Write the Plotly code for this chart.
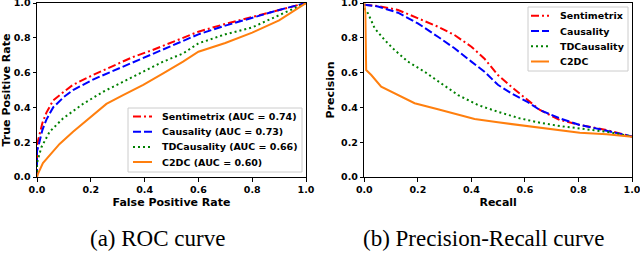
import plotly.graph_objects as go

# ---------------- ROC data ----------------
roc_sent_fpr = [0, 0, 0.004, 0.02, 0.035, 0.06, 0.1, 0.134, 0.208, 0.283, 0.357, 0.43, 0.506, 0.6, 0.7, 0.8, 0.9, 1.0]
roc_sent_tpr = [0, 0.18, 0.21, 0.31, 0.37, 0.44, 0.49, 0.53, 0.586, 0.638, 0.69, 0.73, 0.778, 0.835, 0.88, 0.92, 0.96, 1.0]

roc_caus_fpr = [0, 0, 0.004, 0.02, 0.035, 0.06, 0.1, 0.134, 0.208, 0.283, 0.357, 0.43, 0.506, 0.6, 0.7, 0.8, 0.9, 1.0]
roc_caus_tpr = [0, 0.15, 0.17, 0.27, 0.33, 0.40, 0.46, 0.50, 0.56, 0.61, 0.66, 0.71, 0.76, 0.82, 0.87, 0.915, 0.96, 1.0]

roc_td_fpr = [0, 0, 0.016, 0.047, 0.097, 0.171, 0.246, 0.32, 0.395, 0.469, 0.543, 0.6, 0.7, 0.8, 0.9, 1.0]
roc_td_tpr = [0, 0.08, 0.17, 0.26, 0.337, 0.42, 0.49, 0.548, 0.605, 0.663, 0.71, 0.768, 0.82, 0.86, 0.93, 1.0]

roc_c2_fpr = [0, 0.004, 0.022, 0.047, 0.084, 0.134, 0.208, 0.258, 0.32, 0.395, 0.469, 0.543, 0.6, 0.7, 0.8, 0.9, 1.0]
roc_c2_tpr = [0, 0.02, 0.08, 0.126, 0.19, 0.26, 0.356, 0.42, 0.47, 0.53, 0.596, 0.663, 0.72, 0.77, 0.83, 0.9, 1.0]

# ---------------- Precision-Recall data ----------------
pr_sent_rec = [0, 0.051, 0.126, 0.2, 0.275, 0.337, 0.4, 0.449, 0.499, 0.549, 0.598, 0.656, 0.73, 0.805, 0.905, 1.0]
pr_sent_prec = [0.99, 0.983, 0.96, 0.912, 0.864, 0.816, 0.749, 0.68, 0.586, 0.519, 0.46, 0.385, 0.328, 0.299, 0.27, 0.233]

pr_caus_rec = [0, 0.051, 0.126, 0.2, 0.275, 0.337, 0.4, 0.449, 0.499, 0.549, 0.611, 0.656, 0.73, 0.805, 0.905, 1.0]
pr_caus_prec = [0.99, 0.98, 0.944, 0.883, 0.806, 0.74, 0.663, 0.605, 0.53, 0.481, 0.43, 0.385, 0.337, 0.299, 0.266, 0.233]

pr_td_rec = [0, 0.014, 0.039, 0.076, 0.113, 0.163, 0.225, 0.287, 0.35, 0.424, 0.499, 0.581, 0.656, 0.73, 0.805, 0.905, 1.0]
pr_td_prec = [0.97, 0.94, 0.854, 0.787, 0.73, 0.663, 0.605, 0.539, 0.471, 0.414, 0.375, 0.337, 0.312, 0.293, 0.28, 0.26, 0.233]

pr_c2_rec = [0, 0.004, 0.007, 0.026, 0.063, 0.113, 0.188, 0.275, 0.35, 0.412, 0.499, 0.598, 0.656, 0.73, 0.805, 0.905, 1.0]
pr_c2_prec = [1.0, 0.94, 0.615, 0.586, 0.519, 0.481, 0.424, 0.389, 0.356, 0.333, 0.314, 0.295, 0.28, 0.266, 0.255, 0.245, 0.232]

roc_names = ["Sentimetrix (AUC = 0.74)", "Causality (AUC = 0.73)", "TDCausality (AUC = 0.66)", "C2DC (AUC = 0.60)"]
pr_names = ["Sentimetrix", "Causality", "TDCausality", "C2DC"]
tick_vals = [0.0, 0.2, 0.4, 0.6, 0.8, 1.0]
tick_text = ["0.0", "0.2", "0.4", "0.6", "0.8", "1.0"]
captions = ["(a) ROC curve", "(b) Precision-Recall curve"]

colors = ["#ff0000", "#0000ff", "#008000", "#ff7f0e"]
dashes = ["8px,3px,2px,3px", "8px,3px", "2px,3px", "solid"]
LW = 2

# ---------------- page geometry (pixels) ----------------
W, H = 640, 253
ML, MR, MT, MB = 37, 8, 3, 76
PW, PH = W - ML - MR, H - MT - MB


def px(xp):
    return (xp - ML) / PW


def py(yp):
    return (H - MB - yp) / PH


fig = go.Figure()

roc_series = [(roc_sent_fpr, roc_sent_tpr), (roc_caus_fpr, roc_caus_tpr),
              (roc_td_fpr, roc_td_tpr), (roc_c2_fpr, roc_c2_tpr)]
pr_series = [(pr_sent_rec, pr_sent_prec), (pr_caus_rec, pr_caus_prec),
             (pr_td_rec, pr_td_prec), (pr_c2_rec, pr_c2_prec)]

for i, (x, y) in enumerate(roc_series):
    fig.add_trace(go.Scatter(x=x, y=y, mode="lines", name=roc_names[i], showlegend=False,
                             line=dict(color=colors[i], width=LW, dash=dashes[i]),
                             xaxis="x", yaxis="y"))
for i, (x, y) in enumerate(pr_series):
    fig.add_trace(go.Scatter(x=x, y=y, mode="lines", name=pr_names[i], showlegend=False,
                             line=dict(color=colors[i], width=LW, dash=dashes[i]),
                             xaxis="x2", yaxis="y2"))

tickfont = dict(family="DejaVu Sans", size=9.5, color="black", weight="bold")
titlefont = dict(family="DejaVu Sans", size=11, color="black", weight="bold")


def axis(domain, title, anchor):
    return dict(domain=domain, range=[0, 1], anchor=anchor, automargin=False,
                tickvals=tick_vals, ticktext=tick_text, tickfont=tickfont,
                ticklabeloverflow="allow",
                title=dict(text=title, font=titlefont, standoff=4),
                showgrid=False, zeroline=False, showline=True, mirror=True,
                linecolor="black", linewidth=1, ticks="outside", ticklen=3.5,
                tickwidth=0.8, tickcolor="black")


fig.update_layout(
    width=W, height=H,
    margin=dict(l=ML, r=MR, t=MT, b=MB),
    paper_bgcolor="white", plot_bgcolor="white",
    xaxis=axis([0, px(306)], "False Positive Rate", "y"),
    yaxis=axis([0, 1], "True Positive Rate", "x"),
    xaxis2=axis([px(364.3), 1], "Recall", "y2"),
    yaxis2=axis([0, 1], "Precision", "x2"),
    showlegend=False,
)

# ---------------- legends (matplotlib-style boxes) ----------------
legfont = dict(family="DejaVu Sans", size=9.5, color="black", weight="bold")


def add_legend(box, sample_x, text_x, rows, names):
    x0, y0, x1, y1 = box
    fig.add_shape(type="rect", xref="paper", yref="paper", layer="above",
                  x0=px(x0), x1=px(x1), y0=py(y1), y1=py(y0),
                  line=dict(color="#cccccc", width=1), fillcolor="white")
    for i, (name, ry) in enumerate(zip(names, rows)):
        fig.add_shape(type="line", xref="paper", yref="paper", layer="above",
                      x0=px(sample_x[0]), x1=px(sample_x[1]), y0=py(ry), y1=py(ry),
                      line=dict(color=colors[i], width=LW, dash=dashes[i]))
        fig.add_annotation(x=px(text_x), y=py(ry), xref="paper", yref="paper",
                           text=name, showarrow=False, xanchor="left", yanchor="middle",
                           font=legfont)


add_legend((128, 108, 302, 172), (133, 152), 159.5, [116.5, 131.7, 146.9, 162.0], roc_names)
add_legend((528, 7, 628, 71), (531, 549), 558, [15.7, 31.0, 46.3, 61.5], pr_names)

for cx, txt in zip([157, 483], captions):
    fig.add_annotation(x=px(cx), y=py(238), xref="paper", yref="paper",
                       text=txt, showarrow=False, xanchor="center", yanchor="middle",
                       font=dict(family="Liberation Serif", size=23, color="black"))

# remove the browser's default 8px body margin so the 640x253 figure fills the window
fig.write_html("out.html", config={"displayModeBar": False},
               post_script="document.body.style.margin='0px';")
